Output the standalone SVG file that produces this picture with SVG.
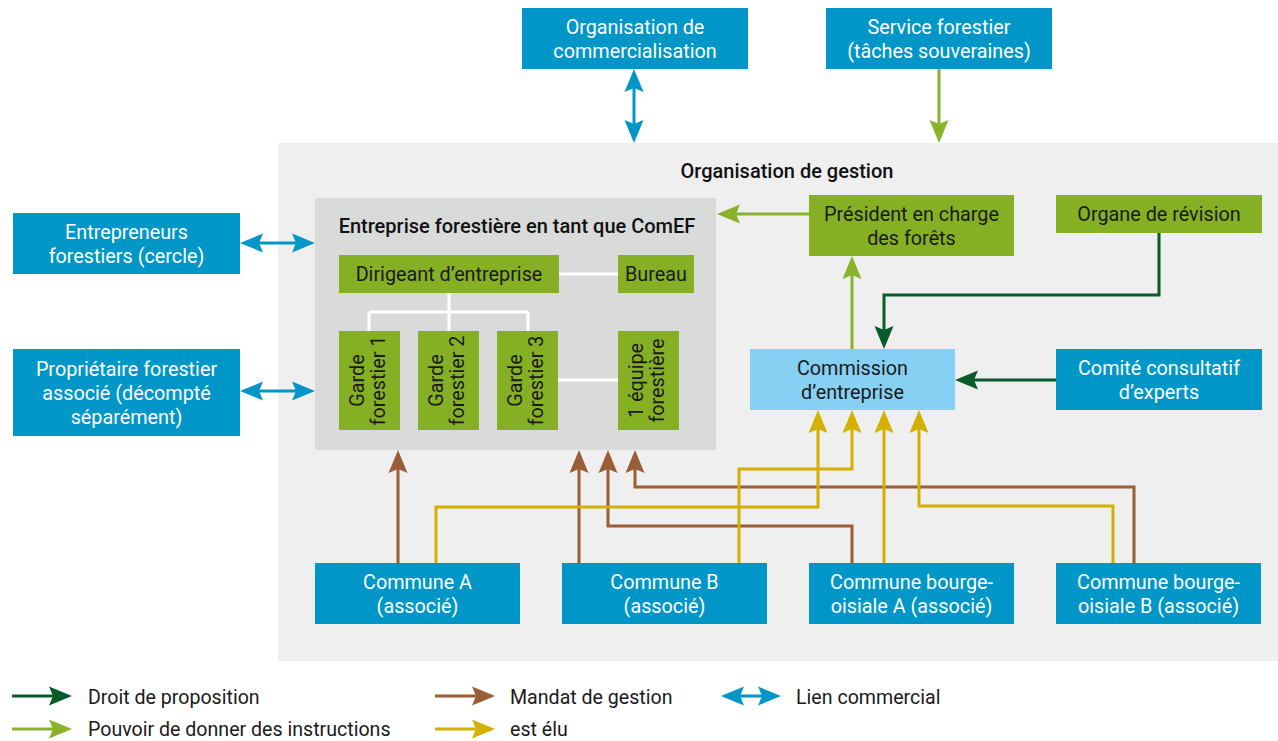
<svg xmlns="http://www.w3.org/2000/svg" width="1278" height="741" viewBox="0 0 1278 741">
<style>
text{font-family:Roboto,"Liberation Sans",sans-serif;font-size:19.8px;text-anchor:middle;}
.w{fill:#ffffff;}
.d{fill:#1a1a1a;}
.t{fill:#111111;font-weight:500;font-size:20px;}
.lg{text-anchor:start;fill:#1a1a1a;font-size:19.6px;}
.blue{fill:#0097c8;}
.green{fill:#86b024;}
.lblue{fill:#86d0f4;}
.c{fill:none;stroke-width:3;}
.cdg{stroke:#085c29;}
.clg{stroke:#88b32b;}
.cbr{stroke:#9a5d35;}
.cye{stroke:#d4b000;}
.cbl{stroke:#0097c8;}
.wl{fill:none;stroke:#ffffff;stroke-width:3;}
</style>
<defs>
<marker id="mdg" viewBox="-9 -10 25 20" refX="0" refY="0" markerWidth="25" markerHeight="20" markerUnits="userSpaceOnUse" orient="auto"><path d="M15,0 L-8,-9.5 L-4,0 L-8,9.5 Z" fill="#085c29"/></marker>
<marker id="mlg" viewBox="-9 -10 25 20" refX="0" refY="0" markerWidth="25" markerHeight="20" markerUnits="userSpaceOnUse" orient="auto"><path d="M15,0 L-8,-9.5 L-4,0 L-8,9.5 Z" fill="#88b32b"/></marker>
<marker id="mbr" viewBox="-9 -10 25 20" refX="0" refY="0" markerWidth="25" markerHeight="20" markerUnits="userSpaceOnUse" orient="auto"><path d="M15,0 L-8,-9.5 L-4,0 L-8,9.5 Z" fill="#9a5d35"/></marker>
<marker id="mye" viewBox="-9 -10 25 20" refX="0" refY="0" markerWidth="25" markerHeight="20" markerUnits="userSpaceOnUse" orient="auto"><path d="M15,0 L-8,-9.5 L-4,0 L-8,9.5 Z" fill="#d4b000"/></marker>
<marker id="mbl" viewBox="-9 -10 25 20" refX="0" refY="0" markerWidth="25" markerHeight="20" markerUnits="userSpaceOnUse" orient="auto-start-reverse"><path d="M15,0 L-8,-9.5 L-4,0 L-8,9.5 Z" fill="#0097c8"/></marker>
</defs>
<rect width="1278" height="741" fill="#ffffff"/>

<g id="org-gestion">
<rect x="278" y="143" width="1000" height="518" fill="#efefef"/>
<text class="t" x="787" y="178">Organisation de gestion</text>
</g>

<g id="entreprise">
<rect x="315" y="198" width="401" height="252" fill="#d9dbdb"/>
<text class="t" x="517" y="233">Entreprise forestière en tant que ComEF</text>
</g>

<g id="internal-links">
<path class="wl" d="M559,274 H618 M449,293 V312 M369,312 H528 M369,312 V331 M449,312 V331 M528,312 V331 M558,380 H618"/>
</g>

<g id="org-commercialisation"><rect class="blue" x="522" y="8" width="226" height="61"/><text class="w" x="635" y="34">Organisation de</text><text class="w" x="635" y="58">commercialisation</text></g>
<g id="service-forestier"><rect class="blue" x="826" y="8" width="226" height="61"/><text class="w" x="939" y="34">Service forestier</text><text class="w" x="939" y="58">(tâches souveraines)</text></g>
<g id="entrepreneurs"><rect class="blue" x="13" y="213" width="227" height="61"/><text class="w" x="126.5" y="239">Entrepreneurs</text><text class="w" x="126.5" y="263">forestiers (cercle)</text></g>
<g id="proprietaire"><rect class="blue" x="13" y="349" width="227" height="87"/><text class="w" x="126.5" y="376">Propriétaire forestier</text><text class="w" x="126.5" y="400">associé (décompté</text><text class="w" x="126.5" y="424">séparément)</text></g>

<g id="dirigeant"><rect class="green" x="339" y="255" width="220" height="38"/><text class="d" x="449" y="281">Dirigeant d’entreprise</text></g>
<g id="bureau"><rect class="green" x="618" y="255" width="76" height="38"/><text class="d" x="656" y="281">Bureau</text></g>
<g id="garde1"><rect class="green" x="339" y="331" width="61" height="99"/><g transform="translate(369.5,380.5) rotate(-90)"><text class="d" x="0" y="-5.5">Garde</text><text class="d" x="0" y="15.5">forestier 1</text></g></g>
<g id="garde2"><rect class="green" x="418" y="331" width="61" height="99"/><g transform="translate(448.5,380.5) rotate(-90)"><text class="d" x="0" y="-5.5">Garde</text><text class="d" x="0" y="15.5">forestier 2</text></g></g>
<g id="garde3"><rect class="green" x="497" y="331" width="61" height="99"/><g transform="translate(527.5,380.5) rotate(-90)"><text class="d" x="0" y="-5.5">Garde</text><text class="d" x="0" y="15.5">forestier 3</text></g></g>
<g id="equipe"><rect class="green" x="618" y="331" width="61" height="99"/><g transform="translate(648.5,380.5) rotate(-90)"><text class="d" x="0" y="-5.5">1 équipe</text><text class="d" x="0" y="15.5">forestière</text></g></g>

<g id="president"><rect class="green" x="809" y="195" width="205" height="61"/><text class="d" x="911.5" y="221">Président en charge</text><text class="d" x="911.5" y="245">des forêts</text></g>
<g id="organe-revision"><rect class="green" x="1056" y="195" width="206" height="38"/><text class="d" x="1159" y="221">Organe de révision</text></g>
<g id="commission"><rect class="lblue" x="750" y="349" width="205" height="61"/><text class="d" x="852.5" y="375">Commission</text><text class="d" x="852.5" y="399">d’entreprise</text></g>
<g id="comite"><rect class="blue" x="1056" y="349" width="206" height="61"/><text class="w" x="1159" y="375">Comité consultatif</text><text class="w" x="1159" y="399">d’experts</text></g>

<g id="commune-a"><rect class="blue" x="315" y="563" width="205" height="61"/><text class="w" x="417.5" y="589">Commune A</text><text class="w" x="417.5" y="613">(associé)</text></g>
<g id="commune-b"><rect class="blue" x="562" y="563" width="205" height="61"/><text class="w" x="664.5" y="589">Commune B</text><text class="w" x="664.5" y="613">(associé)</text></g>
<g id="bourg-a"><rect class="blue" x="809" y="563" width="205" height="61"/><text class="w" x="911.5" y="589">Commune bourge-</text><text class="w" x="911.5" y="613">oisiale A (associé)</text></g>
<g id="bourg-b"><rect class="blue" x="1056" y="563" width="205" height="61"/><text class="w" x="1158.5" y="589">Commune bourge-</text><text class="w" x="1158.5" y="613">oisiale B (associé)</text></g>

<g id="connectors">
<path class="c cbl" d="M634,84 V128" marker-start="url(#mbl)" marker-end="url(#mbl)"/>
<path class="c clg" d="M939,69 V128" marker-end="url(#mlg)"/>
<path class="c cbl" d="M255,243 H300" marker-start="url(#mbl)" marker-end="url(#mbl)"/>
<path class="c cbl" d="M255,391 H300" marker-start="url(#mbl)" marker-end="url(#mbl)"/>
<path class="c clg" d="M809,214 H732" marker-end="url(#mlg)"/>
<path class="c clg" d="M852,349 V271" marker-end="url(#mlg)"/>
<path class="c cdg" d="M1159,233 V295 H884 V334" marker-end="url(#mdg)"/>
<path class="c cdg" d="M1056,380 H970" marker-end="url(#mdg)"/>
<path class="c cbr" d="M398,563 V465" marker-end="url(#mbr)"/>
<path class="c cbr" d="M579,563 V465" marker-end="url(#mbr)"/>
<path class="c cbr" d="M852,563 V526 H608 V465" marker-end="url(#mbr)"/>
<path class="c cbr" d="M1134,563 V487 H635 V465" marker-end="url(#mbr)"/>
<path class="c cye" d="M436,563 V507 H818 V425" marker-end="url(#mye)"/>
<path class="c cye" d="M739,563 V469 H852 V425" marker-end="url(#mye)"/>
<path class="c cye" d="M884,563 V425" marker-end="url(#mye)"/>
<path class="c cye" d="M1113,563 V506 H919 V425" marker-end="url(#mye)"/>
</g>

<g id="legend">
<path class="c cdg" d="M12,696 H57" marker-end="url(#mdg)"/>
<path class="c clg" d="M12,729 H57" marker-end="url(#mlg)"/>
<path class="c cbr" d="M435,696 H480" marker-end="url(#mbr)"/>
<path class="c cye" d="M435,729 H480" marker-end="url(#mye)"/>
<path class="c cbl" d="M736,696 H766" marker-start="url(#mbl)" marker-end="url(#mbl)"/>
<text class="lg" x="88" y="704">Droit de proposition</text>
<text class="lg" x="88" y="736">Pouvoir de donner des instructions</text>
<text class="lg" x="510" y="704">Mandat de gestion</text>
<text class="lg" x="510" y="736">est élu</text>
<text class="lg" x="796" y="704">Lien commercial</text>
</g>
</svg>
